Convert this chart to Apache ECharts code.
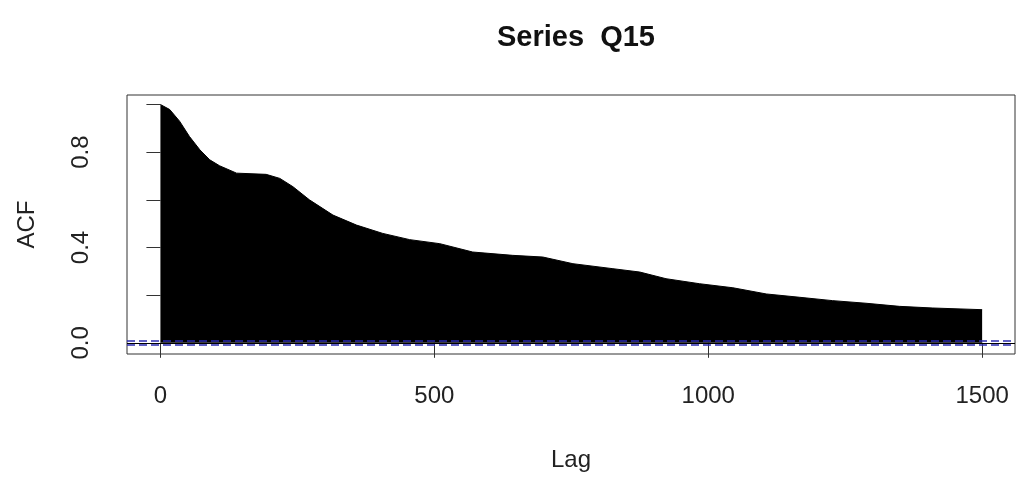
<!DOCTYPE html>
<html>
<head>
<meta charset="utf-8">
<script src="https://cdn.jsdelivr.net/npm/echarts@6/dist/echarts.min.js"></script>
<style>
html,body{margin:0;padding:0;background:#fff;}
#c{width:1017px;height:480px;}
</style>
</head>
<body>
<div id="c"></div>
<script>
// Data (lag, autocorrelation)
var lags = [0, 17, 35, 53, 72, 90, 108, 139, 193, 218, 242, 272, 315, 358, 406, 455, 510, 570, 643, 698, 753, 826, 875, 923, 984, 1045, 1106, 1167, 1227, 1288, 1349, 1410, 1500];
var acfValues = [1.0, 0.979, 0.93, 0.866, 0.81, 0.768, 0.743, 0.712, 0.707, 0.69, 0.655, 0.6, 0.536, 0.494, 0.459, 0.433, 0.416, 0.381, 0.367, 0.36, 0.332, 0.311, 0.297, 0.269, 0.248, 0.231, 0.205, 0.191, 0.177, 0.166, 0.153, 0.146, 0.139];
var ciLimit = 0.015;
var xTicks = [0, 500, 1000, 1500];
var yTicks = [0, 0.2, 0.4, 0.6, 0.8, 1.0];
var yLabels = [0, 0.4, 0.8];
var titleText = 'Series  Q15';

var seriesData = lags.map(function (l, i) { return [l, acfValues[i]]; });

var chart = echarts.init(document.getElementById('c'), null, {renderer: 'canvas'});
var font = 'Liberation Sans, Arial, sans-serif';
chart.setOption({
  animation: false,
  backgroundColor: '#ffffff',
  title: {
    text: titleText,
    left: 571, textAlign: 'center',
    top: 18,
    textStyle: {fontFamily: font, fontSize: 29, fontWeight: 'bold', color: '#111'}
  },
  grid: {
    left: 127, right: 2, top: 95, bottom: 126,
    show: true, borderColor: '#333', borderWidth: 1, backgroundColor: 'transparent'
  },
  xAxis: {
    type: 'value', min: -61, max: 1560,
    name: 'Lag', nameLocation: 'middle', nameGap: 94,
    nameTextStyle: {fontFamily: font, fontSize: 24, color: '#222'},
    axisLine: {show: false},
    splitLine: {show: false},
    axisTick: {show: true, inside: false, length: 15, customValues: xTicks, lineStyle: {color: '#333', width: 1}},
    axisLabel: {show: true, customValues: xTicks, margin: 30, fontFamily: font, fontSize: 24, color: '#222',
      formatter: function (v) { return String(v); }}
  },
  yAxis: {
    type: 'value', min: -0.047, max: 1.04,
    name: 'ACF', nameLocation: 'middle', nameGap: 88, nameRotate: 90,
    nameTextStyle: {fontFamily: font, fontSize: 24, color: '#222'},
    axisLine: {show: false},
    splitLine: {show: false},
    axisTick: {show: true, inside: false, length: 14, customValues: yTicks, lineStyle: {color: '#333', width: 1}},
    axisLabel: {show: true, customValues: yLabels, rotate: 90, margin: 34, fontFamily: font, fontSize: 24, color: '#222',
      formatter: function (v) { return v.toFixed(1); }}
  },
  series: [{
    type: 'line',
    data: seriesData,
    showSymbol: false,
    lineStyle: {color: '#000', width: 1},
    areaStyle: {color: '#000', opacity: 1},
    z: 2
  }, {
    type: 'line',
    data: [],
    z: 10,
    markLine: {
      silent: true, symbol: 'none', label: {show: false}, animation: false, z: 10,
      data: [
        {yAxis: 0, lineStyle: {color: '#000', type: 'solid', width: 1}},
        {yAxis: ciLimit, lineStyle: {color: '#2b2bb0', type: [8, 4], width: 1.5}},
        {yAxis: -ciLimit, lineStyle: {color: '#2b2bb0', type: [8, 4], width: 1.5}}
      ]
    }
  }]
});
</script>
</body>
</html>
